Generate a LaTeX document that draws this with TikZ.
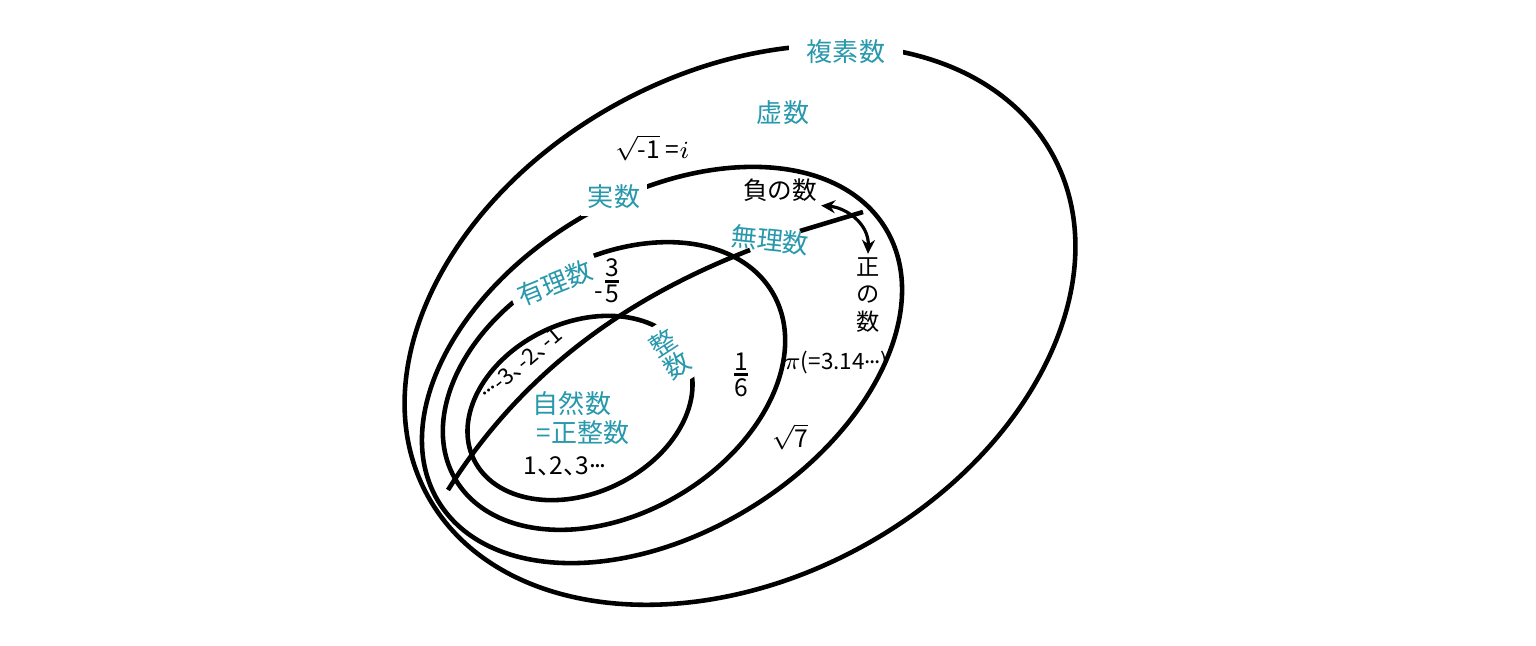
\documentclass[tikz,border=0pt]{standalone}
\usepackage{amsmath}
\usepackage{fontspec}
\newfontfamily\jpfont{Noto Sans CJK JP}
\usepackage{tikz}
\usetikzlibrary{calc,positioning}
\usetikzlibrary{arrows.meta}
\tikzset{>={Stealth[length=1.4mm,width=1.3mm]}}
\definecolor{setcol}{RGB}{40,152,172}
\newcommand{\numfrac}[2]{$\genfrac{}{}{0.8pt}{}{\mbox{#1}}{\mbox{#2}}$}
\newcommand{\tcomma}{\makebox[0.5em][l]{、}}
\newcommand{\mdots}{\raisebox{0.28em}{.\kern-0.06em.\kern-0.06em.}}

\begin{document}
\begin{tikzpicture}[x=0.01cm,y=-0.01cm]
    \useasboundingbox (0,0) rectangle (1536,646);

      \tikzstyle{curve} = [line width=1.3pt, black]
      \tikzstyle{snode} = [text=setcol, inner sep=1pt, font=\jpfont\fontsize{7.4}{7.4}\selectfont]
      \tikzstyle{gnode} = [snode, fill=white, inner sep=2pt]
      \tikzstyle{knode} = [text=black, inner sep=1pt, font=\jpfont\fontsize{7}{7.6}\selectfont]

      % the sets
      \draw[curve, rotate around={28.5:(740,325)}] (740,325) ellipse [x radius=356, y radius=253];
      \draw[curve, rotate around={31.5:(662,365)}] (662,365) ellipse [x radius=262, y radius=168];
      \draw[curve, rotate around={30.5:(614,386)}] (614,386) ellipse [x radius=184, y radius=127];
      \draw[curve, rotate around={25.8:(580,408)}] (580,408) ellipse [x radius=118, y radius=85];

      % negative / positive border
      \coordinate (d0) at (448,490);
      \coordinate (d1) at (750,250);
      \coordinate (d2) at (800,231);
      \coordinate (d3) at (863,212);
      \draw[curve] (d0) .. controls (538,346) and (666,283) .. (d1);
      \draw[curve] (d2) -- (d3);

      \node[gnode, inner xsep=5pt] (cplx) at (846,52) {複素数};
      \node[snode] (imag) at (783,113) {虚数};
      \node[knode] (sqi) at (652,148) {$\sqrt{\mbox{-1}}$ =$i$};
      \node[gnode] (real) at (614,197) {実数};
      \node[knode] (neg) at (780,190) {負の数};
      \node[snode, rotate=-6] (irr) at (770,240) {無理数};
      \node[gnode, rotate=22] (rat) at (555,283) {有理数};
      \node[knode] (q35) at (609,281) {\raisebox{-0.9ex}{-}\kern-0.1em\numfrac{3}{5}};
      \node[gnode, rotate=33, align=center] (int) at (670,354) {整\\数};
      \node[knode, rotate=40, font=\jpfont\fontsize{6.4}{7}\selectfont] (nint) at (521,364) {\mdots-3\tcomma-2\tcomma-1};
      \node[snode] (nat1) at (572,404) {自然数};
      \node[snode] (nat2) at (583,433) {=正整数};
      \node[knode] (nat3) at (565,466) {1\tcomma2\tcomma3\mdots};
      \node[knode] (q16) at (741,375) {\numfrac{1}{6}};
      \node[knode] (pi) at (836,363) {$\pi$\fontsize{6.4}{7}\selectfont(=3.14\mdots)};
      \node[knode] (s7) at (790,437) {$\sqrt{\mbox{7}}$};
      \node[knode, align=center, font=\jpfont\fontsize{6.6}{7.7}\selectfont] (pos) at (868,295) {正\\の\\数};

      \draw[<->, line width=0.9pt] (neg.south east) .. controls +(25,2) and +(1,-30) .. (pos.north);
\end{tikzpicture}
\end{document}
